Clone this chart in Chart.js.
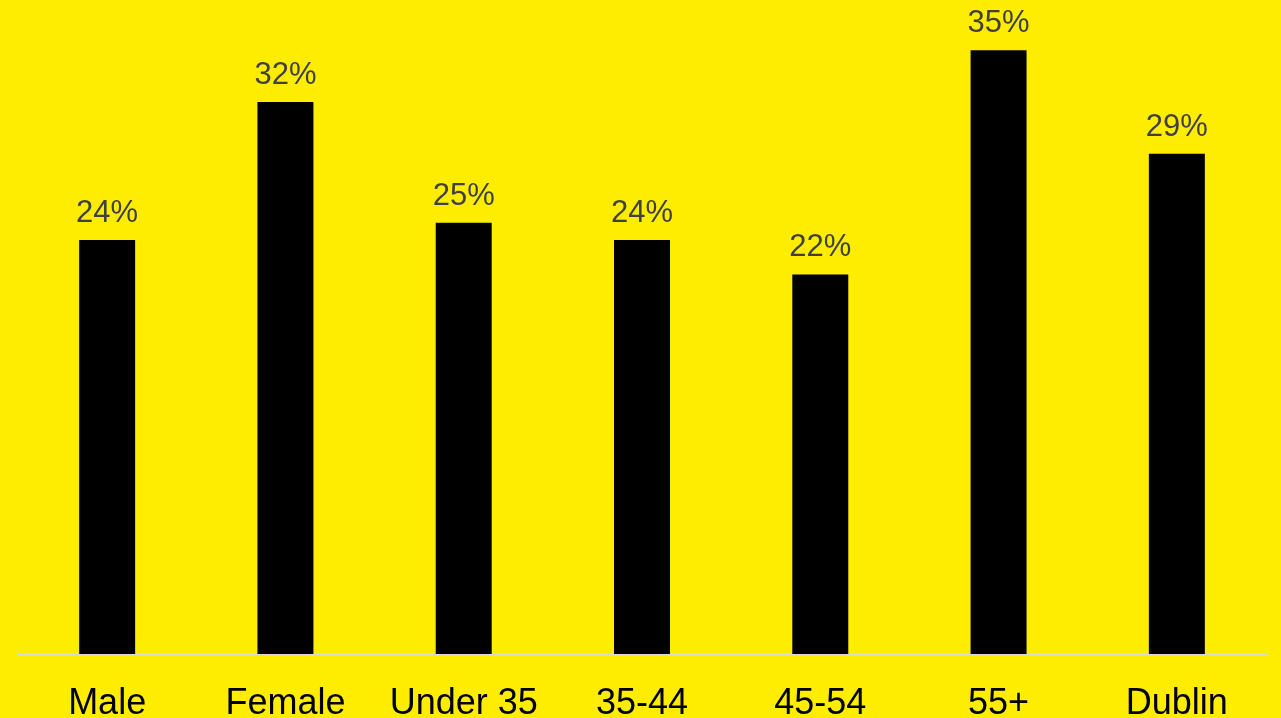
<!DOCTYPE html>
<html>
<head>
<meta charset="utf-8">
<script src="https://cdn.jsdelivr.net/npm/chart.js@4/dist/chart.umd.min.js"></script>
<style>
  html, body { margin: 0; padding: 0; background: #FFED00; }
  #wrap { width: 1281px; height: 718px; }
</style>
</head>
<body>
<div id="wrap"><canvas id="chart"></canvas></div>
<script>
const categories = ['Male', 'Female', 'Under 35', '35-44', '45-54', '55+', 'Dublin'];
const values = [24, 32, 25, 24, 22, 35, 29];

// draws the % labels above each bar
const barLabels = {
    id: 'barLabels',
    afterDatasetsDraw(chart) {
        const ctx = chart.ctx;
        const meta = chart.getDatasetMeta(0);
        ctx.save();
        ctx.fillStyle = '#404040';
        ctx.font = '31px "Liberation Sans", Arial, sans-serif';
        ctx.textAlign = 'center';
        ctx.textBaseline = 'alphabetic';
        meta.data.forEach((bar, i) => {
            ctx.fillText(values[i] + '%', bar.x, bar.y - 18);
        });
        ctx.restore();
    }
};

new Chart(
    document.getElementById('chart'),
    {
        type: 'bar',
        data: {
            labels: categories,
            datasets: [{
                data: values,
                backgroundColor: '#000000',
                barPercentage: 0.314,
                categoryPercentage: 1,
            }]
        },
        options: {
            responsive: true,
            maintainAspectRatio: false,
            animation: false,
            layout: {
                padding: { left: 18, right: 15, top: 0, bottom: 0 }
            },
            plugins: {
                legend: { display: false },
                tooltip: { enabled: false },
            },
            scales: {
                x: {
                    grid: { display: false },
                    border: { display: true, color: '#D9D9D9', width: 2 },
                    ticks: {
                        color: '#000000',
                        padding: 20,
                        maxRotation: 0,
                        autoSkip: false,
                        font: { family: '"Liberation Sans", Arial, sans-serif', size: 36 },
                    },
                    afterFit: (scale) => { scale.height = 64; },
                },
                y: {
                    display: false,
                    min: 0,
                    max: 37.91,
                }
            }
        },
        plugins: [barLabels],
    }
);
</script>
</body>
</html>
